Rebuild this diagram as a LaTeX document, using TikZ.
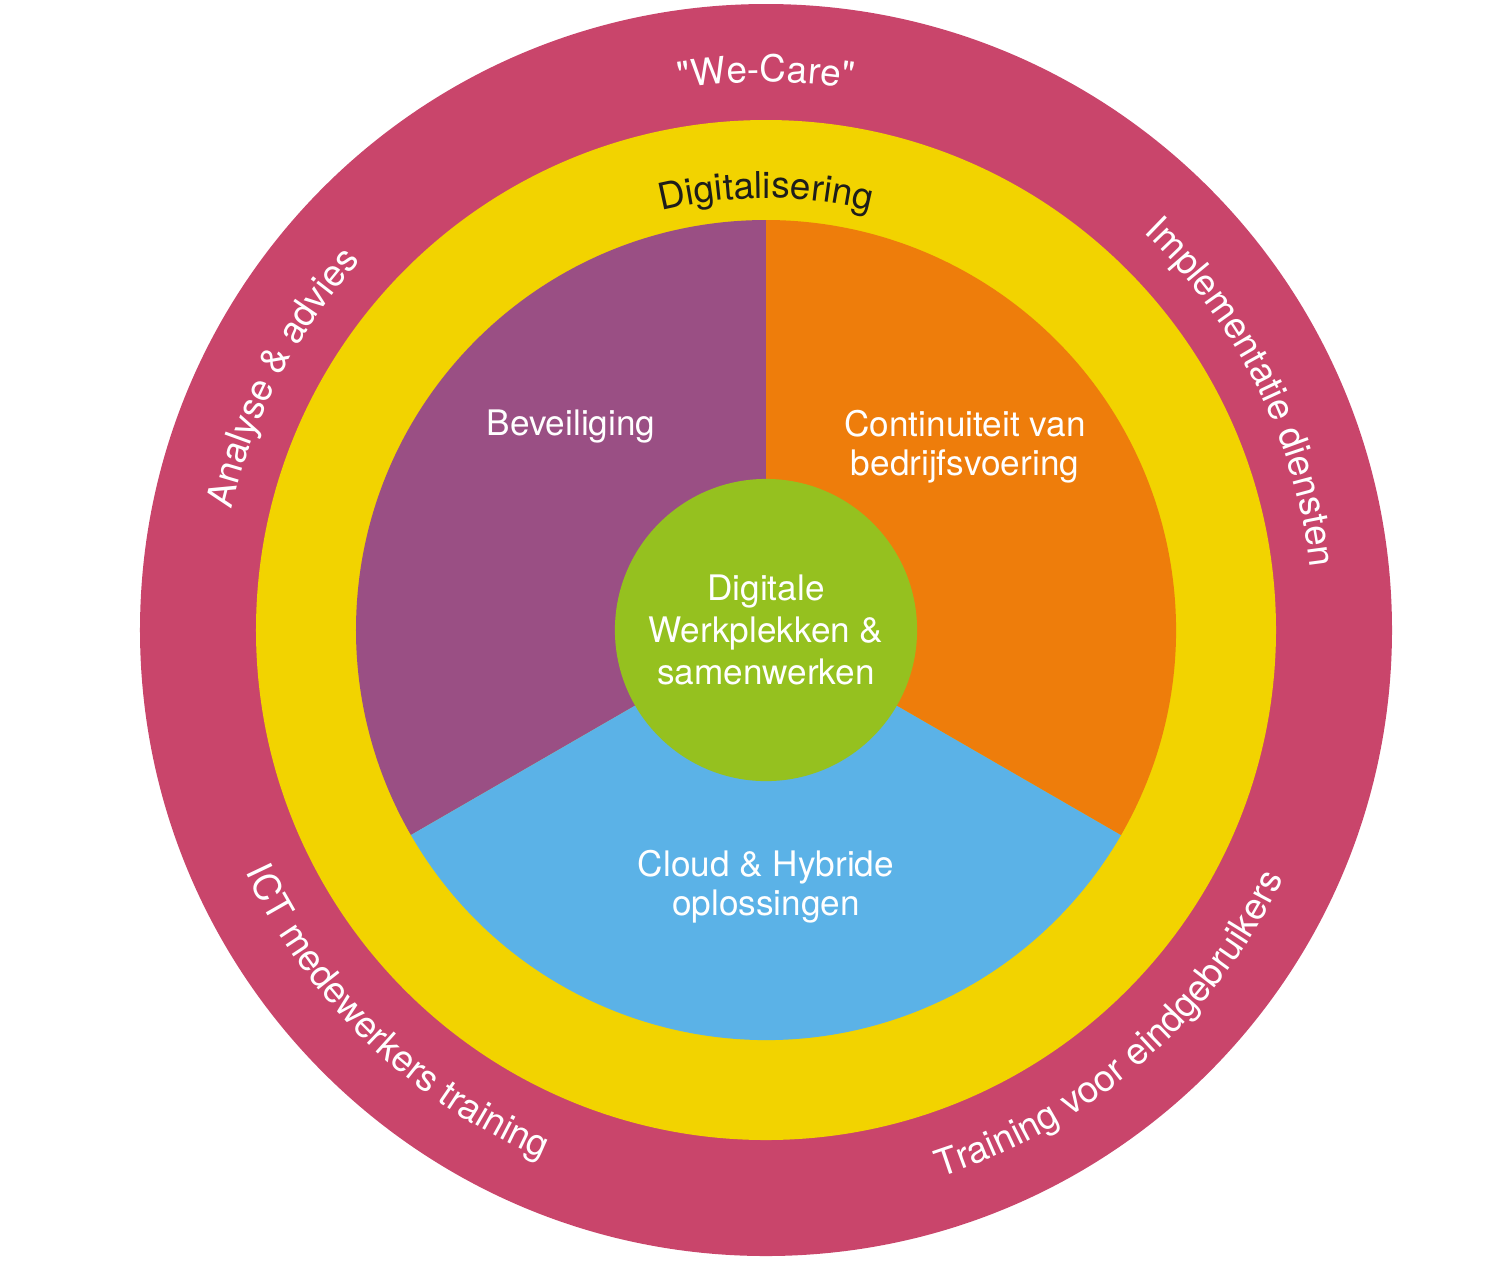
\documentclass[tikz,border=0pt]{standalone}
\usepackage{fontspec}
\setmainfont{TeX Gyre Heros}[Ligatures=TeXOff]
\usepackage{color}
\usetikzlibrary{decorations.text}

\definecolor{ringred}{HTML}{C9456B}
\definecolor{ringyellow}{HTML}{F2D300}
\definecolor{pieviolet}{HTML}{9A4F84}
\definecolor{pieorange}{HTML}{EE7D0B}
\definecolor{pieblue}{HTML}{5BB2E7}
\definecolor{hubgreen}{HTML}{95C11F}
\definecolor{darktext}{HTML}{1D1D1B}

\newcommand{\ringfont}{\fontsize{10.5}{12}\selectfont\color{white}}
\newcommand{\digifont}{\fontsize{10.5}{12}\selectfont\color{darktext}}

\tikzset{
  sectorlabel/.style={text=white, align=center, font=\fontsize{10}{11}\selectfont},
  ringtext/.style={decorate, decoration={text along path, text align=center}}
}

\begin{document}
\begin{tikzpicture}[x=0.01cm, y=0.01cm]
    \useasboundingbox (-766,-632) rectangle (744,630);

    \fill[ringred] (0,0) circle[radius=626];
    \fill[ringyellow] (0,0) circle[radius=510];

    \foreach \a/\c in {90/pieviolet, 210/pieblue, 330/pieorange} {
      \fill[\c] (0,0) -- (\a:410) arc[start angle=\a, end angle=\a+120, radius=410] -- cycle;
    }

    \node[circle, fill=hubgreen, minimum size=3.02cm, inner sep=0pt, text=white,
          align=center, font=\fontsize{10}{12}\selectfont] (hub) at (0,0)
          {Digitale\\Werkplekken \&\\samenwerken};

    \node[sectorlabel] (security) at (-195,204) {Beveiliging};
    \node[sectorlabel] (continuity) at (199,183) {Continuiteit van\\bedrijfsvoering};
    \node[sectorlabel] (cloud) at (0,-257) {Cloud \& Hybride\\oplossingen};

    \path[ringtext, decoration={text={|\digifont|Digitalisering}}]
      (120:432) arc[start angle=120, end angle=60, radius=432];

    \path[ringtext, decoration={text={|\ringfont|"We-Care"}}]
      (120:548) arc[start angle=120, end angle=60, radius=548];
    \path[ringtext, decoration={text={|\ringfont|Analyse {\&} advies}}]
      (182.5:548) arc[start angle=182.5, end angle=122.5, radius=548];
    \path[ringtext, decoration={text={|\ringfont|Implementatie diensten}}]
      (56.5:548) arc[start angle=56.5, end angle=-3.5, radius=548];
    \path[ringtext, decoration={text={|\ringfont|ICT medewerkers training}}]
      (196:574) arc[start angle=196, end angle=256, radius=574];
    \path[ringtext, decoration={text={|\ringfont|Training voor eindgebruikers}}]
      (-79:574) arc[start angle=-79, end angle=-19, radius=574];
  \end{tikzpicture}
\end{document}
